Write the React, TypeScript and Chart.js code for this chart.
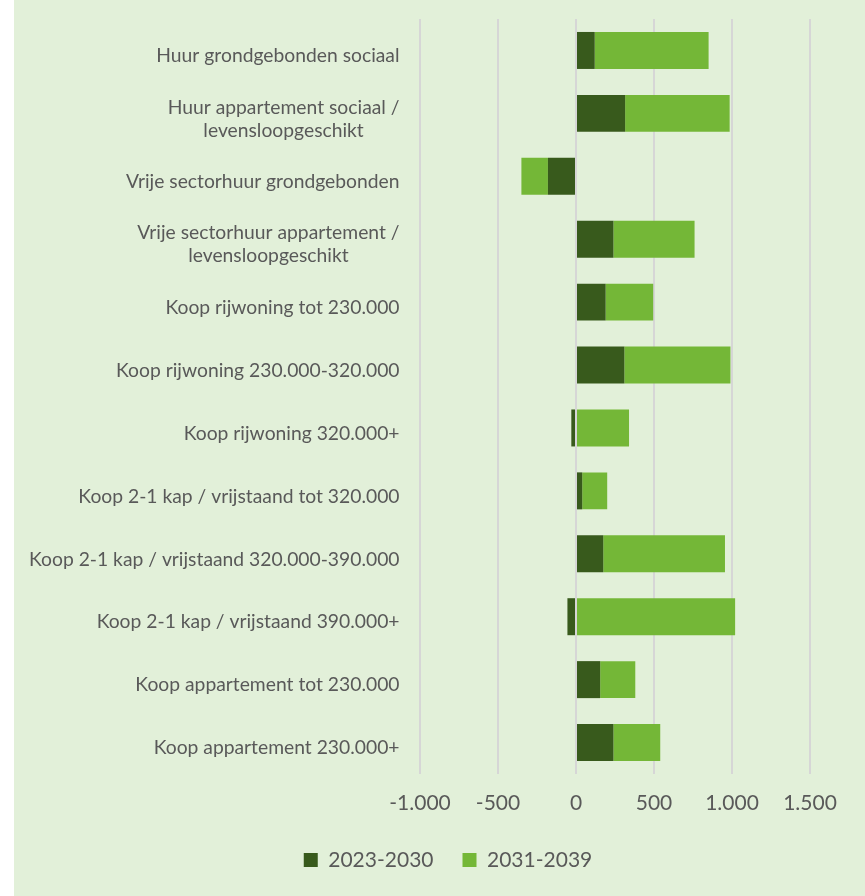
import React, { useEffect, useRef } from "react";
import { Chart, registerables } from "chart.js";

Chart.register(...registerables);

const categories: (string | string[])[] = [
  "Huur grondgebonden sociaal",
  ["Huur appartement sociaal /", "levensloopgeschikt"],
  "Vrije sectorhuur grondgebonden",
  ["Vrije sectorhuur appartement /", "levensloopgeschikt"],
  "Koop rijwoning tot 230.000",
  "Koop rijwoning 230.000-320.000",
  "Koop rijwoning 320.000+",
  "Koop 2-1 kap / vrijstaand tot 320.000",
  "Koop 2-1 kap / vrijstaand 320.000-390.000",
  "Koop 2-1 kap / vrijstaand 390.000+",
  "Koop appartement tot 230.000",
  "Koop appartement 230.000+",
];

const seriesNames = ["2023-2030", "2031-2039"];
const values2023_2030 = [120, 315, -180, 240, 190, 310, -30, 40, 175, -55, 155, 240];
const values2031_2039 = [730, 670, -170, 520, 305, 680, 340, 160, 780, 1020, 225, 300];

const xMin = -1000;
const xMax = 1500;
const xStep = 500;

const FONT = "Lato, 'Open Sans', sans-serif";
const LABEL_SIZE = 19.3;
const TICK_SIZE = 21;
const TEXT = "#595959";
const DARK = "#385A1C";
const LIGHT = "#74B737";
const BG = "#E2F0D9";
const GRID = "#D6D6D6";
const LABEL_RIGHT = 385.5;
const PAD_LEFT = 72;
const PLOT_LEFT = 406;
const LINE_GAP = 23;
const LABEL_SHIFT = 5.5;

const fmt = (v: number) => {
  const s = Math.abs(v).toString().replace(/\B(?=(\d{3})+(?!\d))/g, ".");
  return (v < 0 ? "-" : "") + s;
};

const labelPlugin = {
  id: "catLabels",
  afterDraw(chart: any) {
    const ys = chart.scales.y;
    const ctx = chart.ctx;
    ctx.save();
    ctx.font = `${LABEL_SIZE}px ${FONT}`;
    ctx.fillStyle = TEXT;
    ctx.textBaseline = "middle";
    ctx.textAlign = "center";
    categories.forEach((lab, i) => {
      const lines = Array.isArray(lab) ? lab : [lab];
      const w = Math.max(...lines.map((l) => ctx.measureText(l).width));
      const cx = LABEL_RIGHT - w / 2;
      const cy = ys.getPixelForValue(i) + LABEL_SHIFT;
      lines.forEach((l, j) => {
        ctx.fillText(l, cx, cy + (j - (lines.length - 1) / 2) * LINE_GAP);
      });
    });
    ctx.restore();
  },
};

export default function App() {
  const ref = useRef<HTMLCanvasElement | null>(null);
  useEffect(() => {
    if (!ref.current) return;
    const chart = new Chart(ref.current, {
      type: "bar",
      data: {
        labels: categories,
        datasets: [
          {
            label: seriesNames[0],
            data: values2023_2030,
            backgroundColor: DARK,
            barPercentage: 0.588,
            categoryPercentage: 1,
          },
          {
            label: seriesNames[1],
            data: values2031_2039,
            backgroundColor: LIGHT,
            barPercentage: 0.588,
            categoryPercentage: 1,
          },
        ],
      },
      options: {
        indexAxis: "y",
        animation: false,
        responsive: false,
        maintainAspectRatio: false,
        layout: { padding: { top: 19, right: 55, left: PAD_LEFT, bottom: 15.5 } },
        scales: {
          x: {
            stacked: true,
            min: xMin,
            max: xMax,
            ticks: {
              stepSize: xStep,
              color: TEXT,
              font: { family: FONT, size: TICK_SIZE },
              padding: 17,
              callback: (v: any) => fmt(Number(v)),
            },
            grid: { color: GRID, lineWidth: 2, drawTicks: false },
            border: { display: false },
            afterFit: (scale: any) => {
              scale.height = 46.5;
            },
          },
          y: {
            stacked: true,
            ticks: { display: false },
            grid: { display: false },
            border: { display: false },
            afterFit: (scale: any) => {
              scale.width = PLOT_LEFT - PAD_LEFT;
            },
          },
        },
        plugins: {
          tooltip: { enabled: false },
          legend: {
            position: "bottom",
            labels: {
              boxWidth: 14,
              boxHeight: 14,
              padding: 29,
              color: TEXT,
              font: { family: FONT, size: TICK_SIZE },
            },
          },
        },
      },
      plugins: [labelPlugin],
    });
    return () => chart.destroy();
  }, []);
  return (
    <div
      style={{
        position: "absolute",
        left: 14,
        top: 0,
        width: 851,
        height: 896,
        background: BG,
      }}
    >
      <canvas ref={ref} width={851} height={896} style={{ display: "block" }} />
    </div>
  );
}
